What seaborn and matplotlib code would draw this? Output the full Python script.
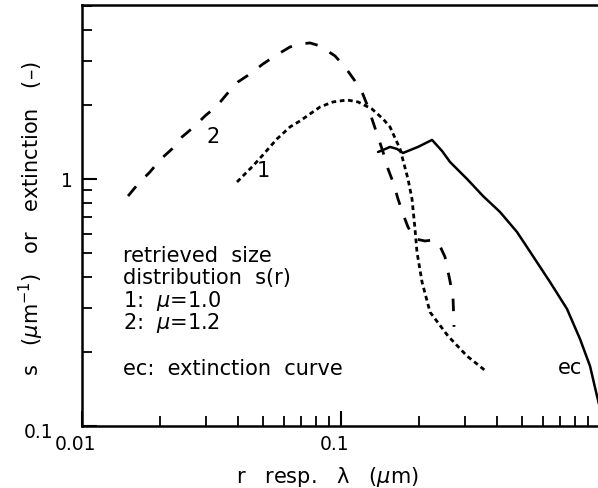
import matplotlib
matplotlib.use("Agg")
import matplotlib.pyplot as plt
import matplotlib.transforms as mtransforms
import seaborn as sns
import pandas as pd

# ---- data ----
mu12_r = [0.01506, 0.01645, 0.01830, 0.02000, 0.02226, 0.02433, 0.02731, 0.02984,
          0.03320, 0.03629, 0.04002, 0.04453, 0.04998, 0.05561, 0.06355, 0.06945,
          0.07593, 0.08297, 0.09480, 0.1036, 0.1132, 0.1205, 0.1271, 0.1329, 0.1390,
          0.1453, 0.1519, 0.1588, 0.1660, 0.1735, 0.1814, 0.1931, 0.2110, 0.2266,
          0.2411, 0.2521, 0.2635, 0.2706, 0.2720, 0.2731]
mu12_s = [0.853, 0.954, 1.067, 1.194, 1.323, 1.479, 1.639, 1.799,
          1.975, 2.209, 2.470, 2.661, 2.921, 3.148, 3.422, 3.520,
          3.553, 3.455, 3.148, 2.841, 2.493, 2.250, 1.956, 1.701, 1.479,
          1.286, 1.098, 0.972, 0.830, 0.722, 0.639, 0.572, 0.561, 0.566,
          0.535, 0.483, 0.386, 0.333, 0.289, 0.252]

mu10_r = [0.03967, 0.04259, 0.04573, 0.04954, 0.05660, 0.06355, 0.06945, 0.08297,
          0.09314, 0.1055, 0.1163, 0.1317, 0.1453, 0.1546, 0.1616, 0.1690, 0.1751,
          0.1814, 0.1880, 0.1931, 0.1965, 0.2055, 0.2207, 0.2589, 0.3066, 0.3663]
mu10_s = [0.972, 1.048, 1.129, 1.239, 1.452, 1.624, 1.717, 1.956,
          2.050, 2.088, 2.050, 1.920, 1.750, 1.624, 1.466, 1.323, 1.150,
          1.000, 0.830, 0.627, 0.506, 0.383, 0.289, 0.2314, 0.1920, 0.1654]

ec_lam = [0.1390, 0.1453, 0.1546, 0.1645, 0.1735, 0.1983, 0.2246, 0.2455, 0.2635,
          0.3066, 0.3534, 0.4111, 0.4781, 0.5225, 0.6409, 0.7458, 0.8372, 0.9150,
          0.9737, 1.0]
ec_val = [1.286, 1.310, 1.348, 1.323, 1.274, 1.348, 1.439, 1.298, 1.172,
          1.000, 0.853, 0.735, 0.610, 0.530, 0.383, 0.2977, 0.2250, 0.1749,
          0.1323, 0.118]

x_ticks = [0.01, 0.1, 1]
x_ticklabels = ["0.01", "0.1", ""]
y_ticks = [0.1, 1]
y_ticklabels = ["0.1", "1"]

legend_lines = ["retrieved  size", "distribution  s(r)", r"1:  $\mu$=1.0", r"2:  $\mu$=1.2"]
legend_y = [0.4656, 0.3793, 0.3061, 0.2492]
ec_note = "ec:  extinction  curve"
ec_note_y = 0.1624
text_x = 0.01439

# ---- plot ----
sns.set_style("ticks")
plt.rcParams["font.family"] = ["DejaVu Sans"]
plt.rcParams["lines.scale_dashes"] = False
plt.rcParams["lines.dash_capstyle"] = "butt"
plt.rcParams["text.color"] = "black"
plt.rcParams["axes.labelcolor"] = "black"
plt.rcParams["xtick.color"] = "black"
plt.rcParams["ytick.color"] = "black"

W, H = 598, 489
fig = plt.figure(figsize=(W / 100, H / 100), dpi=100)
left, right, top, bottom = 82, 600, 6, 427
ax = fig.add_axes([left / W, (H - bottom) / H, (right - left) / W, (bottom - top) / H])
ax.set_xscale("log")
ax.set_yscale("log")

d2 = pd.DataFrame({"x": mu12_r, "y": mu12_s})
d1 = pd.DataFrame({"x": mu10_r, "y": mu10_s})
de = pd.DataFrame({"x": ec_lam, "y": ec_val})

sns.lineplot(data=d2, x="x", y="y", ax=ax, color="black", lw=2.0, sort=False,
             estimator=None, linestyle=(0, (9, 10)), dash_capstyle="butt")
sns.lineplot(data=d1, x="x", y="y", ax=ax, color="black", lw=2.0, sort=False,
             estimator=None, linestyle=(0, (3.4, 2.6)), dash_capstyle="butt")
sns.lineplot(data=de, x="x", y="y", ax=ax, color="black", lw=1.8, sort=False, estimator=None)

ax.set_xlim(0.01, 1.0)
ax.set_ylim(0.1, 5.06)

for side in ["top", "left", "bottom"]:
    ax.spines[side].set_linewidth(1.8)
    ax.spines[side].set_color("black")
ax.spines["right"].set_visible(False)

ax.set_xticks(x_ticks)
ax.set_xticklabels(x_ticklabels)
ax.set_yticks(y_ticks)
ax.set_yticklabels(y_ticklabels)
ax.tick_params(which="major", direction="in", length=11, width=1.5, labelsize=13.5, pad=6,
               top=False, right=False, colors="black")
ax.tick_params(which="minor", direction="in", length=7, width=1.3, top=False, right=False,
               colors="black")
ax.tick_params(axis="y", which="major", pad=6.5)

# shift tick labels like in the reference
for lab in ax.get_xticklabels():
    lab.set_transform(lab.get_transform() + mtransforms.ScaledTranslation(-6 / 100, 0, fig.dpi_scale_trans))
ylabs = ax.get_yticklabels()
ylabs[0].set_transform(ylabs[0].get_transform() + mtransforms.ScaledTranslation(-20 / 100, -4 / 100, fig.dpi_scale_trans))

ax.set_xlabel(r"r   resp.   λ   ($\mu$m)", fontsize=15, color="black")
ax.xaxis.set_label_coords(0.473, -0.09)
ax.set_ylabel(r"s   ($\mu$m$^{-1}$)   or   extinction   (–)", fontsize=15, color="black")
ax.yaxis.set_label_coords(-0.07, 0.494)

# curve labels
ax.text(0.03205, 1.493, "2", fontsize=15, ha="center", va="center", color="black")
ax.text(0.04998, 1.087, "1", fontsize=15, ha="center", va="center", color="black")
ax.text(0.766, 0.173, "ec", fontsize=15, ha="center", va="center", color="black")

# annotation block
for txt, yy in zip(legend_lines, legend_y):
    ax.text(text_x, yy, txt, fontsize=15, ha="left", va="baseline", color="black")
ax.text(text_x, ec_note_y, ec_note, fontsize=15, ha="left", va="baseline", color="black")

fig.savefig("out.png", dpi=100)
